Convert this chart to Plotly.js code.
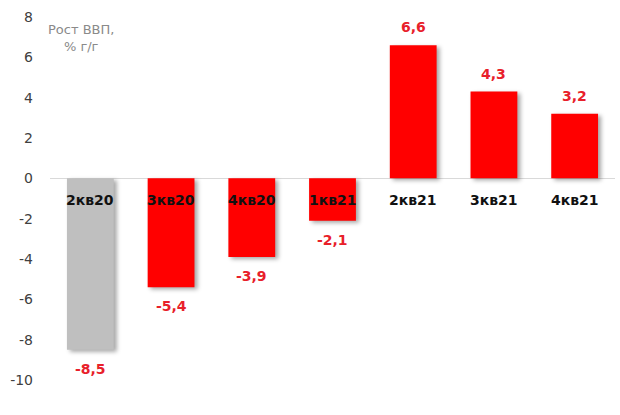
<!DOCTYPE html>
<html>
<head>
<meta charset="utf-8">
<script src="https://cdn.plot.ly/plotly-3.0.1.min.js"></script>
<style>
html,body{margin:0;padding:0;background:#fff;}
#chart{width:620px;height:415px;}
.trace.bars path{filter:drop-shadow(3px 2px 2px rgba(0,0,0,0.35));}
</style>
</head>
<body>
<div id="chart"></div>
<script>
var categories = ["2кв20", "3кв20", "4кв20", "1кв21", "2кв21", "3кв21", "4кв21"];
var values = [-8.5, -5.4, -3.9, -2.1, 6.6, 4.3, 3.2];
var barColors = ["#bfbfbf", "#ff0000", "#ff0000", "#ff0000", "#ff0000", "#ff0000", "#ff0000"];
var yTicks = [-10, -8, -6, -4, -2, 0, 2, 4, 6, 8];
var yTitle = "Рост ВВП,<br>% г/г";

var FONT = "DejaVu Sans, Verdana, sans-serif";
function fmt(v) { return v.toFixed(1).replace(".", ","); }

var annotations = [];
categories.forEach(function (c, i) {
  annotations.push({
    x: c, y: 0, xref: "x", yref: "y", text: "<b>" + c + "</b>",
    showarrow: false, yanchor: "middle", yshift: -22,
    font: {family: FONT, size: 14, color: "#111"}
  });
  var v = values[i];
  annotations.push({
    x: c, y: v, xref: "x", yref: "y", text: "<b>" + fmt(v) + "</b>",
    showarrow: false,
    yanchor: v >= 0 ? "bottom" : "top",
    yshift: v >= 0 ? 8 : -9,
    font: {family: FONT, size: 14, color: "#e8202a"}
  });
});
annotations.push({
  x: (81 - 50) / 565, y: 1 - (38 - 17) / 363, xref: "paper", yref: "paper",
  text: yTitle, xanchor: "center", yanchor: "middle", showarrow: false,
  font: {family: FONT, size: 13, color: "#8a8a8a"}
});

var trace = {
  type: "bar",
  x: categories,
  y: values,
  marker: {color: barColors, line: {width: 0}},
  width: 0.58,
  hoverinfo: "none"
};

var layout = {
  width: 620, height: 415,
  margin: {l: 50, r: 5, t: 17, b: 35},
  paper_bgcolor: "#fff", plot_bgcolor: "#fff",
  showlegend: false,
  xaxis: {
    showticklabels: false, showgrid: false, zeroline: false, showline: false,
    range: [-0.5, 6.5], ticks: ""
  },
  yaxis: {
    range: [-10, 8], tickvals: yTicks, ticktext: yTicks.map(String),
    showgrid: false, zeroline: true, zerolinecolor: "#d9d9d9", zerolinewidth: 1.5,
    showline: false, ticks: "",
    tickfont: {family: FONT, size: 14, color: "#404040"},
    ticklabelstandoff: 16
  },
  annotations: annotations
};

Plotly.newPlot("chart", [trace], layout, {displayModeBar: false, staticPlot: true});
</script>
</body>
</html>
